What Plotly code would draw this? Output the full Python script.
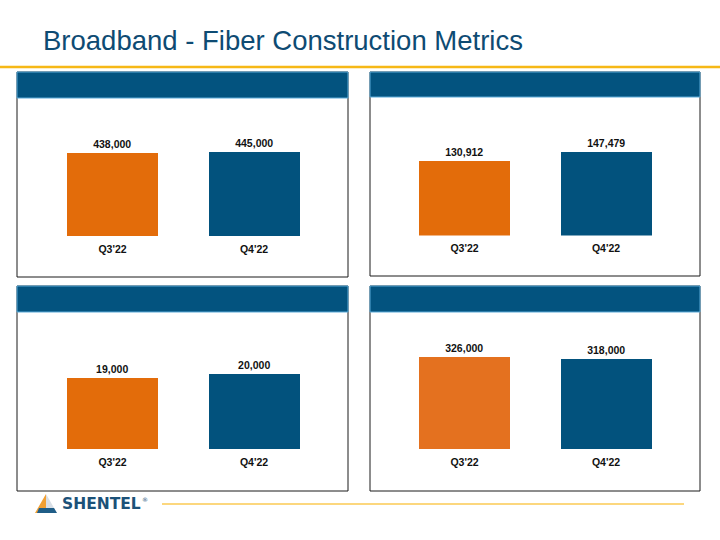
import plotly.graph_objects as go

W, H = 720, 540

categories = ["Q3'22", "Q4'22"]
panel1_values = [438000, 445000]
panel2_values = [130912, 147479]
panel3_values = [19000, 20000]
panel4_values = [326000, 318000]

title_text = "Broadband - Fiber Construction Metrics"

ORANGE = "#e36c0a"
ORANGE2 = "#e4711f"
BLUE = "#02527d"
HEADER = "#03537f"
HEADER_EDGE = "#5aaad8"
TITLE_COL = "#0e4b73"
GOLD = "#f6b817"
GOLD_LIGHT = "#fcd77e"


def px_x(x):
    return x / W


def px_y(y):
    return 1 - y / H


panels = [
    dict(box=(17, 72, 348, 277), hb=98, bottom=236, c1=112.5, rmax=728000,
         values=panel1_values, colors=[ORANGE, BLUE]),
    dict(box=(370, 72, 700, 276), hb=97, bottom=235.5, c1=464.5, rmax=243400,
         values=panel2_values, colors=[ORANGE, BLUE]),
    dict(box=(17, 286, 348, 491), hb=312, bottom=449, c1=112.5, rmax=36630,
         values=panel3_values, colors=[ORANGE, BLUE]),
    dict(box=(370, 286, 700, 491), hb=312, bottom=449, c1=464.5, rmax=484800,
         values=panel4_values, colors=[ORANGE2, BLUE]),
]

GAP = 141.5

fig = go.Figure()
shapes = []
layout_axes = {}
for i, p in enumerate(panels):
    n = i + 1
    xa = "x" if n == 1 else f"x{n}"
    ya = "y" if n == 1 else f"y{n}"
    fig.add_trace(go.Bar(
        x=categories, y=p["values"],
        marker=dict(color=p["colors"], line=dict(width=0)),
        width=0.643,
        text=[f"{v:,}" for v in p["values"]],
        textposition="outside",
        textfont=dict(family="Liberation Sans, Arial, sans-serif", size=10.5, color="#111111", weight="bold"),
        cliponaxis=False,
        xaxis=xa, yaxis=ya, showlegend=False, hoverinfo="skip",
    ))
    x0 = p["c1"] - GAP / 2
    x1 = x0 + 2 * GAP
    top = p["hb"]
    layout_axes["xaxis" if n == 1 else f"xaxis{n}"] = dict(
        domain=[px_x(x0), px_x(x1)], anchor=ya, range=[-0.5, 1.5],
        showline=False, showgrid=False, zeroline=False, ticks="",
        tickfont=dict(family="Liberation Sans, Arial, sans-serif", size=10.5, color="#111111", weight="bold"),
        ticklabelstandoff=5, fixedrange=True,
    )
    layout_axes["yaxis" if n == 1 else f"yaxis{n}"] = dict(
        domain=[px_y(p["bottom"]), px_y(top)], anchor=xa, range=[0, p["rmax"]],
        showline=False, showgrid=False, zeroline=False, showticklabels=False, ticks="",
        fixedrange=True,
    )
    l, t, r, b = p["box"]
    shapes.append(dict(type="rect", xref="paper", yref="paper",
                       x0=px_x(l), x1=px_x(r), y0=px_y(b), y1=px_y(t),
                       line=dict(color="#1a1a1a", width=1), fillcolor="rgba(0,0,0,0)"))
    shapes.append(dict(type="rect", xref="paper", yref="paper",
                       x0=px_x(l), x1=px_x(r), y0=px_y(p["hb"]), y1=px_y(t),
                       line=dict(color=HEADER_EDGE, width=1), fillcolor=HEADER))

shapes.append(dict(type="line", xref="paper", yref="paper",
                   x0=0, x1=1, y0=px_y(67), y1=px_y(67),
                   line=dict(color=GOLD, width=2.5)))
shapes.append(dict(type="line", xref="paper", yref="paper",
                   x0=px_x(162), x1=px_x(684), y0=px_y(504), y1=px_y(504),
                   line=dict(color=GOLD_LIGHT, width=2)))


def path(pts):
    return "M " + " L ".join(f"{px_x(x)},{px_y(y)}" for x, y in pts) + " Z"


shapes.append(dict(type="path", xref="paper", yref="paper",
                   path=path([(46, 494), (35, 513), (46, 513)]),
                   fillcolor="#f2a033", line=dict(width=0)))
shapes.append(dict(type="path", xref="paper", yref="paper",
                   path=path([(46, 494), (46, 513), (57, 513)]),
                   fillcolor="#d9dfe6", line=dict(width=0)))
shapes.append(dict(type="path", xref="paper", yref="paper",
                   path=path([(39, 508), (37, 513), (57, 513), (54, 508)]),
                   fillcolor="#1f5d87", line=dict(width=0)))

annotations = [
    dict(text=title_text, xref="paper", yref="paper", x=px_x(41), y=px_y(40),
         xanchor="left", yanchor="middle", showarrow=False,
         font=dict(family="Liberation Sans, Arial, sans-serif", size=27.5, color=TITLE_COL)),
    dict(text="SHENTEL", xref="paper", yref="paper", x=px_x(60), y=px_y(504),
         xanchor="left", yanchor="middle", showarrow=False,
         font=dict(family="DejaVu Sans, Verdana, sans-serif", size=15.5, color="#1b5178", weight="bold")),
    dict(text="®", xref="paper", yref="paper", x=px_x(140), y=px_y(499),
         xanchor="left", yanchor="middle", showarrow=False,
         font=dict(family="DejaVu Sans, sans-serif", size=6, color="#1b5178")),
]

fig.update_layout(
    width=W, height=H, margin=dict(l=0, r=0, t=0, b=0),
    paper_bgcolor="white", plot_bgcolor="rgba(0,0,0,0)",
    shapes=shapes, annotations=annotations, bargap=0,
    **layout_axes,
)

fig.write_html("out.html", config={"displayModeBar": False},
               post_script="document.body.style.margin='0';")
